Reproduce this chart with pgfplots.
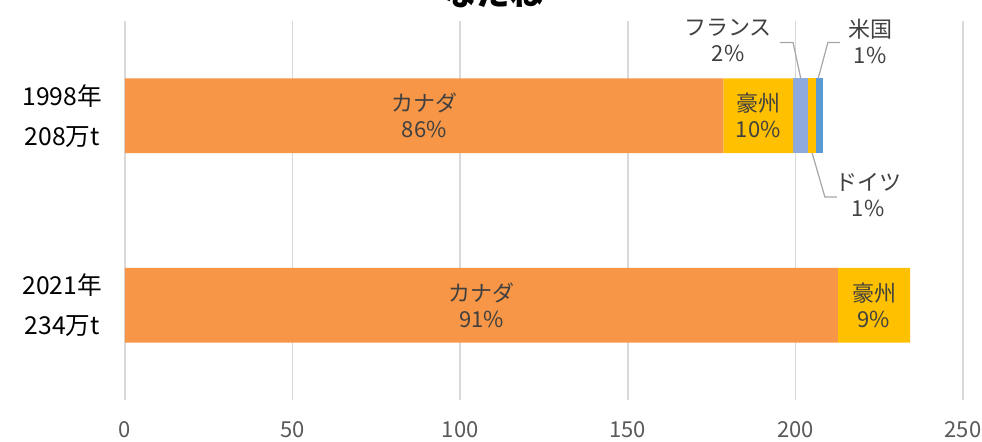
\documentclass[border=0pt]{standalone}
\usepackage{pgfplots}
\pgfplotsset{compat=1.18}
\usepackage{fontspec}
\setmainfont{Noto Sans CJK JP}
\definecolor{canada}{HTML}{F79646}
\definecolor{gold}{HTML}{FFC000}
\definecolor{france}{HTML}{8EA9DB}
\definecolor{usa}{HTML}{5B9BD5}
\definecolor{lbl}{HTML}{404040}
\definecolor{tick}{HTML}{595959}
\definecolor{leader}{HTML}{A6A6A6}
\tikzset{dl/.style={align=center, text=lbl, font=\fontsize{16.5}{19.5}\selectfont}}
\begin{document}
\begin{tikzpicture}
\begin{axis}[
  scale only axis, width=628.5pt, height=284.25pt,
  xbar stacked, bar width=0.395,
  xmin=0, xmax=250, ymin=-0.5, ymax=1.5,
  xtick={0,50,100,150,200,250},
  ytick={0,1},
  yticklabels={{2021年\\234万t},{1998年\\208万t}},
  yticklabel style={anchor=center, xshift=-47pt, align=center, text=black, font=\fontsize{18.5}{30}\selectfont},
  xticklabel style={anchor=center, yshift=-22.5pt, text=tick, font=\fontsize{16.5}{18}\selectfont},
  /pgf/number format/assume math mode=true,
  axis line style={draw=none},
  major tick length=0pt,
  xmajorgrids, grid style={color=black!15, line width=1.3pt},
  clip=false,
]
\addplot[fill=canada, draw=none] coordinates {(178.5,1) (212.7,0)};
\addplot[fill=gold, draw=none] coordinates {(20.8,1) (21.5,0)};
\addplot[fill=france, draw=none] coordinates {(4.5,1) (0,0)};
\addplot[fill=gold, draw=none] coordinates {(2.3,1) (0,0)};
\addplot[fill=usa, draw=none] coordinates {(2.1,1) (0,0)};

\coordinate (cA) at (axis cs:89.25,1);
\coordinate (aA) at (axis cs:188.9,1);
\coordinate (cB) at (axis cs:106.35,0);
\coordinate (aB) at (axis cs:223.45,0);
\coordinate (fr) at (axis cs:179.9,1.397);
\coordinate (us) at (axis cs:222.3,1.392);
\coordinate (de) at (axis cs:221.7,0.582);
\coordinate (t) at (axis cs:109.8,1.58);
\draw[leader, line width=0.9pt] (axis cs:195.4,1.387) -- (axis cs:199.3,1.387) -- (axis cs:201.6,1.197);
\draw[leader, line width=0.9pt] (axis cs:213.3,1.387) -- (axis cs:209.7,1.387) -- (axis cs:206.8,1.197);
\draw[leader, line width=0.9pt] (axis cs:205.0,0.803) -- (axis cs:208.8,0.571) -- (axis cs:212.4,0.571);
\end{axis}
\node[dl] at (cA) {カナダ\\86\%};
\node[dl] at (aA) {豪州\\10\%};
\node[dl] at (cB) {カナダ\\91\%};
\node[dl] at (aB) {豪州\\9\%};
\node[dl] at (fr) {フランス\\2\%};
\node[dl] at (us) {米国\\1\%};
\node[dl] at (de) {ドイツ\\1\%};
\node[anchor=base, font=\fontsize{25}{28}\selectfont\bfseries] at (t) {なたね};
\pgfresetboundingbox
\path[use as bounding box] ([xshift=-93.75pt,yshift=-31.5pt]current axis.south west) rectangle ([xshift=14.25pt,yshift=15.75pt]current axis.north east);
\end{tikzpicture}
\end{document}
